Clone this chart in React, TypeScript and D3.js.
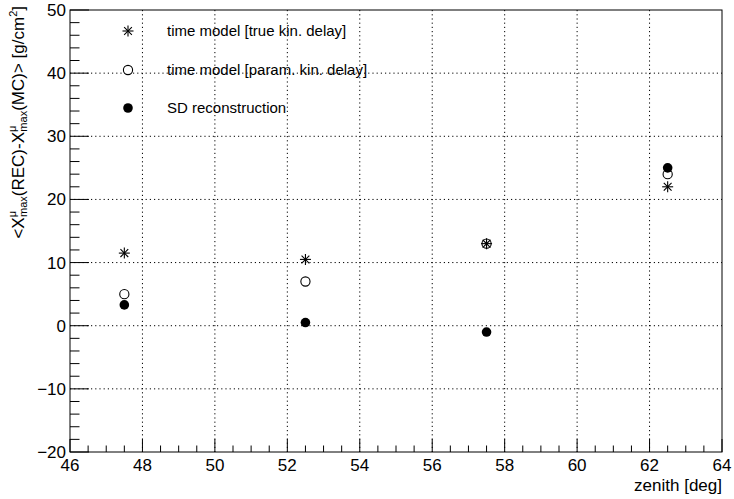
import React from "react";
import * as d3 from "d3";

const zenith = [47.5, 52.5, 57.5, 62.5];
const trueKin = [11.5, 10.5, 13, 22];
const paramKin = [5, 7, 13, 24];
const sdReco = [3.3, 0.5, -1, 25];
const xTicks = [46, 48, 50, 52, 54, 56, 58, 60, 62, 64];
const yTicks = [-20, -10, 0, 10, 20, 30, 40, 50];
const legendLabels = [
  "time model [true kin. delay]",
  "time model [param. kin. delay]",
  "SD reconstruction",
];

const W = 734, H = 499;
const L = 70, R = 722, T = 10, B = 452;

function Star({ x, y, s = 5.5 }: { x: number; y: number; s?: number }) {
  const d = s * 0.7071;
  return (
    <g stroke="#000" strokeWidth={1.1}>
      <line x1={x - s} y1={y} x2={x + s} y2={y} />
      <line x1={x} y1={y - s} x2={x} y2={y + s} />
      <line x1={x - d} y1={y - d} x2={x + d} y2={y + d} />
      <line x1={x - d} y1={y + d} x2={x + d} y2={y - d} />
    </g>
  );
}

export default function App() {
  const x = d3.scaleLinear().domain([46, 64]).range([L, R]);
  const y = d3.scaleLinear().domain([-20, 50]).range([B, T]);
  const xMinor = d3.range(46, 64.001, 0.5);
  const yMinor = d3.range(-20, 50.001, 2);
  const font = "Liberation Sans, Arial, sans-serif";
  const legY = [31, 70, 108];
  return (
    <svg width={W} height={H} style={{ position: "absolute", left: 0, top: 0, background: "#fff" }} fontFamily={font}>
      <rect x={0} y={0} width={W} height={H} fill="#fff" />
      {/* grid */}
      <g stroke="#000" strokeWidth={1} strokeDasharray="1.2,3">
        {xTicks.slice(1, -1).map((t) => (
          <line key={"gx" + t} x1={x(t)} x2={x(t)} y1={T} y2={B} />
        ))}
        {yTicks.slice(1, -1).map((t) => (
          <line key={"gy" + t} x1={L} x2={R} y1={y(t)} y2={y(t)} />
        ))}
      </g>
      {/* frame */}
      <rect x={L} y={T} width={R - L} height={B - T} fill="none" stroke="#000" strokeWidth={1} />
      {/* ticks */}
      <g stroke="#000" strokeWidth={1}>
        {xMinor.map((t) => {
          const major = Math.abs(t / 2 - Math.round(t / 2)) < 1e-6;
          return <line key={"xt" + t} x1={x(t)} x2={x(t)} y1={B} y2={B - (major ? 13 : 6.5)} />;
        })}
        {yMinor.map((t) => {
          const major = Math.abs(t / 10 - Math.round(t / 10)) < 1e-6;
          return <line key={"yt" + t} x1={L} x2={L + (major ? 19 : 9.5)} y1={y(t)} y2={y(t)} />;
        })}
      </g>
      {/* tick labels */}
      <g fontSize={17} fill="#000">
        {xTicks.map((t) => (
          <text key={"xl" + t} x={x(t)} y={B + 19} textAnchor="middle">{t}</text>
        ))}
        {yTicks.map((t) => (
          <text key={"yl" + t} x={L - 4} y={y(t) + 6} textAnchor="end">{t < 0 ? "\u2212" + Math.abs(t) : t}</text>
        ))}
      </g>
      {/* axis titles */}
      <text x={R} y={491} textAnchor="end" fontSize={17}>zenith [deg]</text>
      <text transform={`translate(24,${T - 4}) rotate(-90)`} textAnchor="end" fontSize={17}>
        <tspan>{"<X"}</tspan>
        <tspan fontSize={11} dy={-8}>{"\u03bc"}</tspan>
        <tspan fontSize={11} dx={-6} dy={11}>max</tspan>
        <tspan dy={-3}>{"(REC)-X"}</tspan>
        <tspan fontSize={11} dy={-8}>{"\u03bc"}</tspan>
        <tspan fontSize={11} dx={-6} dy={11}>max</tspan>
        <tspan dy={-3}>{"(MC)> [g/cm"}</tspan>
        <tspan fontSize={11} dy={-7}>2</tspan>
        <tspan dy={7}>]</tspan>
      </text>
      {/* data */}
      {zenith.map((z, i) => (
        <circle key={"p" + i} cx={x(z)} cy={y(paramKin[i])} r={4.6} fill="#fff" stroke="#000" strokeWidth={1.1} />
      ))}
      {zenith.map((z, i) => (
        <circle key={"s" + i} cx={x(z)} cy={y(sdReco[i])} r={4.8} fill="#000" />
      ))}
      {zenith.map((z, i) => (
        <Star key={"t" + i} x={x(z)} y={y(trueKin[i])} />
      ))}
      {/* legend */}
      <Star x={128} y={legY[0]} />
      <circle cx={128} cy={legY[1]} r={4.6} fill="#fff" stroke="#000" strokeWidth={1.1} />
      <circle cx={128} cy={legY[2]} r={4.8} fill="#000" />
      {legendLabels.map((l, i) => (
        <text key={"lg" + i} x={167} y={legY[i] + 5} fontSize={15}>{l}</text>
      ))}
    </svg>
  );
}
